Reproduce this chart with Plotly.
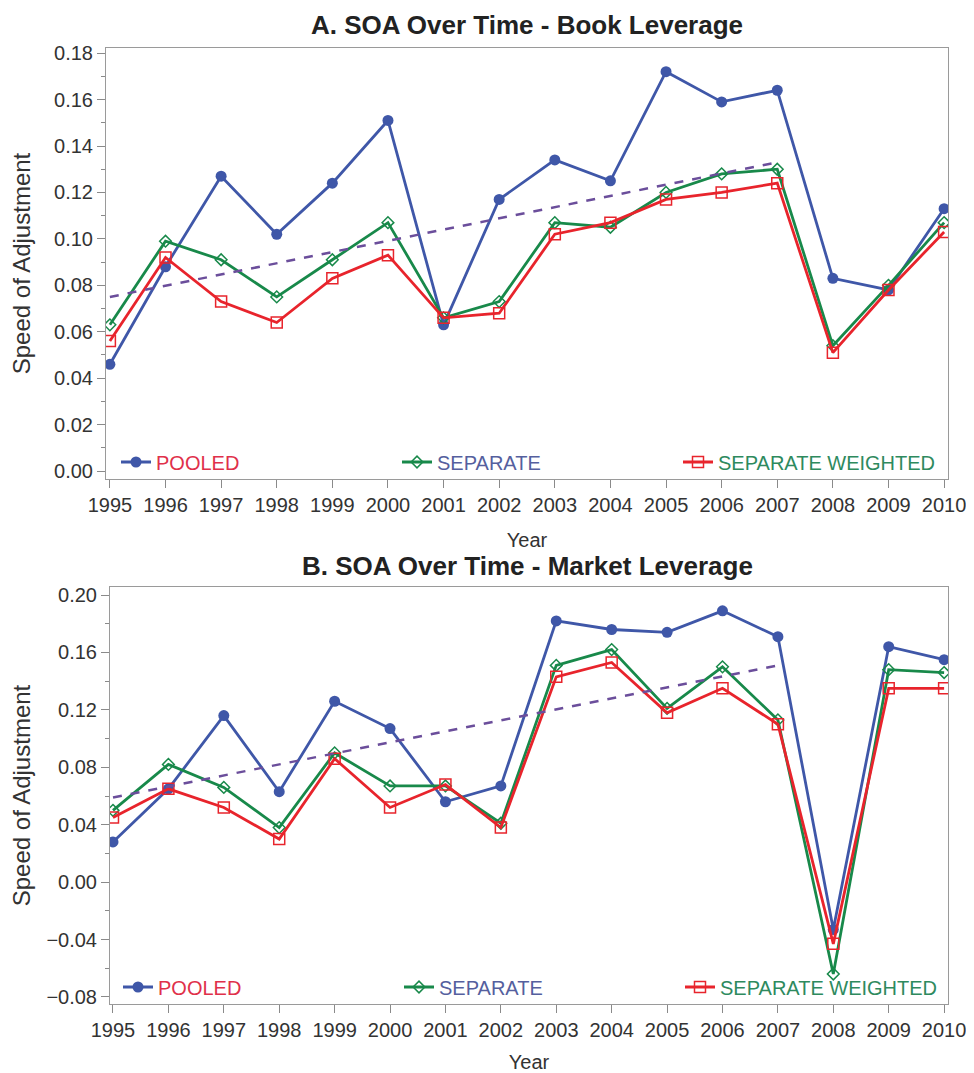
import plotly.graph_objects as go

years = [1995, 1996, 1997, 1998, 1999, 2000, 2001, 2002,
         2003, 2004, 2005, 2006, 2007, 2008, 2009, 2010]

# Panel A: Book leverage
book_pooled = [0.046, 0.088, 0.127, 0.102, 0.124, 0.151, 0.063, 0.117,
               0.134, 0.125, 0.172, 0.159, 0.164, 0.083, 0.078, 0.113]
book_separate = [0.063, 0.099, 0.091, 0.075, 0.091, 0.107, 0.066, 0.073,
                 0.107, 0.105, 0.120, 0.128, 0.130, 0.054, 0.080, 0.107]
book_weighted = [0.056, 0.092, 0.073, 0.064, 0.083, 0.093, 0.066, 0.068,
                 0.102, 0.107, 0.117, 0.120, 0.124, 0.051, 0.078, 0.103]
book_trend_years = [1995, 2007]
book_trend = [0.075, 0.133]

# Panel B: Market leverage
mkt_pooled = [0.028, 0.065, 0.116, 0.063, 0.126, 0.107, 0.056, 0.067,
              0.182, 0.176, 0.174, 0.189, 0.171, -0.033, 0.164, 0.155]
mkt_separate = [0.050, 0.082, 0.066, 0.038, 0.090, 0.067, 0.067, 0.041,
                0.151, 0.162, 0.121, 0.150, 0.113, -0.064, 0.148, 0.146]
mkt_weighted = [0.045, 0.065, 0.052, 0.030, 0.086, 0.052, 0.068, 0.038,
                0.143, 0.153, 0.118, 0.135, 0.110, -0.043, 0.135, 0.135]
mkt_trend_years = [1995, 2007]
mkt_trend = [0.059, 0.151]

series_names = ["POOLED", "SEPARATE", "SEPARATE WEIGHTED"]
legend_text_colors = ["#E0304A", "#555F9E", "#2E8A5E"]

C_POOL = "#3F57A8"
C_SEP = "#18894A"
C_WT = "#E8242C"
C_TREND = "#6B4E9B"

FONT = "Arial, 'Liberation Sans', sans-serif"
PAGE_W, PAGE_H = 974, 1073
OFF = 8  # default body margin of the html page
W, H = PAGE_W - OFF, PAGE_H - OFF

fig = go.Figure()


def add_panel(xa, ya, leg, pooled, sep, wt, ty, tv):
    lbl = [f'<span style="color:{c}">{n}</span>'
           for n, c in zip(series_names, legend_text_colors)]
    fig.add_trace(go.Scatter(
        x=years, y=pooled, name=lbl[0], mode="lines+markers",
        line=dict(color=C_POOL, width=2.8),
        marker=dict(symbol="circle", size=11, color=C_POOL),
        xaxis=xa, yaxis=ya, legend=leg))
    fig.add_trace(go.Scatter(
        x=years, y=sep, name=lbl[1], mode="lines+markers",
        line=dict(color=C_SEP, width=2.8),
        marker=dict(symbol="diamond-open", size=9, color=C_SEP,
                    line=dict(width=1.5, color=C_SEP)),
        xaxis=xa, yaxis=ya, legend=leg))
    fig.add_trace(go.Scatter(
        x=years, y=wt, name=lbl[2], mode="lines+markers",
        line=dict(color=C_WT, width=2.8),
        marker=dict(symbol="square-open", size=11, color=C_WT,
                    line=dict(width=1.5, color=C_WT)),
        xaxis=xa, yaxis=ya, legend=leg))
    fig.add_trace(go.Scatter(
        x=ty, y=tv, mode="lines", showlegend=False,
        line=dict(color=C_TREND, width=2.5, dash="dash"),
        xaxis=xa, yaxis=ya))


add_panel("x", "y", "legend", book_pooled, book_separate, book_weighted,
          book_trend_years, book_trend)
add_panel("x2", "y2", "legend2", mkt_pooled, mkt_separate, mkt_weighted,
          mkt_trend_years, mkt_trend)


def px_x(p):
    return (p - OFF) / W


def px_y(p):
    return 1 - (p - OFF) / H


axis_common = dict(
    showline=True, mirror=True, linecolor="#9a9a9a", linewidth=1,
    ticks="outside", tickcolor="#8a8a8a", ticklen=8, tickwidth=1,
    showgrid=False, zeroline=False, automargin=False,
    ticklabeloverflow="allow",
    tickfont=dict(family=FONT, size=20, color="#333333"),
)

xcommon = dict(axis_common, tickvals=years, ticktext=[str(y) for y in years])
ytitle_font = dict(family=FONT, size=24, color="#333333")
xtitle_font = dict(family=FONT, size=20, color="#333333")

fig.update_layout(
    template="plotly_white",
    width=W, height=H,
    margin=dict(l=0, r=0, t=0, b=0, autoexpand=False),
    paper_bgcolor="white", plot_bgcolor="white",
    xaxis=dict(xcommon, domain=[px_x(106), px_x(948)],
               range=[1994.93, 2010.07], anchor="y",
               title=dict(text="Year", font=xtitle_font, standoff=17)),
    yaxis=dict(axis_common, domain=[px_y(479), px_y(48)],
               range=[-0.0034, 0.1822], tick0=0, dtick=0.02, tickformat=".2f",
               minor=dict(ticks="outside", ticklen=4, dtick=0.01, tickcolor="#8a8a8a"),
               title=dict(text="Speed of Adjustment", font=ytitle_font, standoff=16),
               anchor="x"),
    xaxis2=dict(xcommon, domain=[px_x(110), px_x(948)],
                range=[1994.946, 2010.07], anchor="y2",
                title=dict(text="Year", font=xtitle_font, standoff=16)),
    yaxis2=dict(axis_common, domain=[px_y(1004), px_y(587)],
                range=[-0.0849, 0.2056], tick0=0, dtick=0.04, tickformat=".2f",
                minor=dict(ticks="outside", ticklen=4, dtick=0.02, tickcolor="#8a8a8a"),
                title=dict(text="Speed of Adjustment", font=ytitle_font, standoff=17),
                anchor="x2"),
    legend=dict(orientation="h", x=px_x(116), y=px_y(462), xanchor="left",
                yanchor="middle", entrywidth=236, entrywidthmode="pixels",
                bgcolor="rgba(0,0,0,0)", font=dict(family=FONT, size=20),
                itemwidth=30),
    legend2=dict(orientation="h", x=px_x(118), y=px_y(987), xanchor="left",
                 yanchor="middle", entrywidth=236, entrywidthmode="pixels",
                 bgcolor="rgba(0,0,0,0)", font=dict(family=FONT, size=20),
                 itemwidth=30),
    annotations=[
        dict(text="<b>A. SOA Over Time - Book Leverage</b>", x=px_x(527), y=1.0,
             xref="paper", yref="paper", showarrow=False, xanchor="center",
             yanchor="top", font=dict(family=FONT, size=26, color="#222222")),
        dict(text="<b>B. SOA Over Time - Market Leverage</b>", x=px_x(527), y=px_y(566),
             xref="paper", yref="paper", showarrow=False, xanchor="center",
             yanchor="middle", font=dict(family=FONT, size=26, color="#222222")),
    ],
)

fig.write_html("out.html")
